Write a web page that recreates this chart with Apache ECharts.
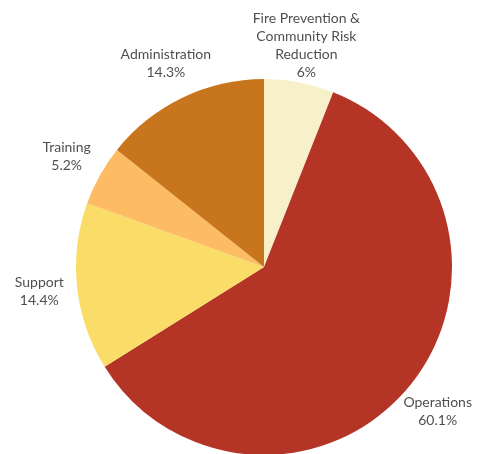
<!DOCTYPE html>
<html>
<head>
<meta charset="utf-8">
<script src="https://cdn.jsdelivr.net/npm/echarts@6/dist/echarts.min.js"></script>
<style>html,body{margin:0;padding:0;background:#fff;}#c{width:492px;height:454px;}</style>
</head>
<body>
<div id="c"></div>
<script>
const categories = ['Fire Prevention &\nCommunity Risk\nReduction', 'Operations', 'Support', 'Training', 'Administration'];
const values = [6, 60.1, 14.4, 5.2, 14.3];
const colors = ['#F8F0C8', '#B43526', '#FADC68', '#FDBB63', '#C8761D'];

const CX = 264, CY = 267, R = 188, LABEL_R = 226;
const total = values.reduce((a, b) => a + b, 0);
// label anchor = middle of each slice, in value units along the angle axis
const mids = [];
let acc = 0;
values.forEach(v => { mids.push(acc + v / 2); acc += v; });

const labelText = (name, v) => (name + '\n' + v + '%').split('\n').map(s => '{c|' + s + '}').join('\n');

const chart = echarts.init(document.getElementById('c'));
chart.setOption({
  animation: false,
  polar: { center: [CX, CY], radius: LABEL_R },
  angleAxis: { type: 'value', min: 0, max: total, startAngle: 90, clockwise: true, show: false },
  radiusAxis: { type: 'value', min: 0, max: 1, show: false },
  series: [{
    type: 'pie',
    center: [CX, CY],
    radius: R,
    startAngle: 90,
    clockwise: true,
    data: categories.map((n, i) => ({ name: n, value: values[i], itemStyle: { color: colors[i] } })),
    label: { show: false },
    labelLine: { show: false },
    emphasis: { disabled: true }
  }, {
    type: 'scatter',
    coordinateSystem: 'polar',
    symbolSize: 2,
    itemStyle: { color: 'rgba(0,0,0,0)' },
    silent: true,
    clip: false,
    data: categories.map((n, i) => ({ value: [1, mids[i]], name: n })),
    label: {
      show: true,
      position: 'inside',
      formatter: p => labelText(p.name, values[p.dataIndex]),
      align: 'center',
      verticalAlign: 'middle',
      color: '#222',
      rich: {
        c: { align: 'center', fontFamily: 'Lato', fontSize: 14, lineHeight: 18, color: '#222' }
      }
    },
    emphasis: { disabled: true }
  }]
});
</script>
</body>
</html>
